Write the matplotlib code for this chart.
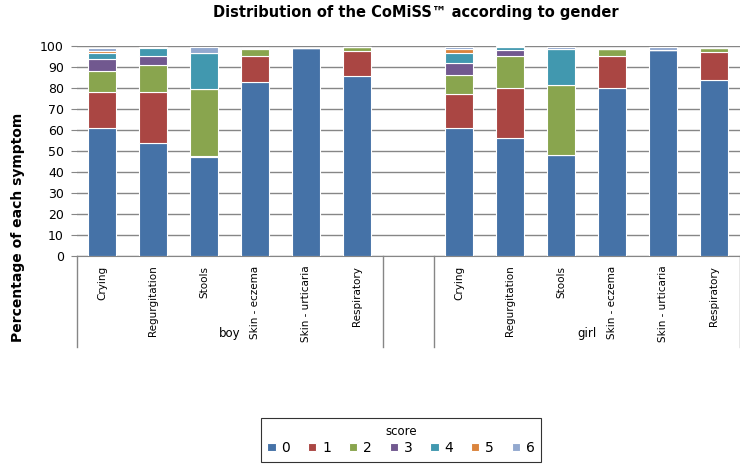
import numpy as np
import matplotlib
matplotlib.use("Agg")
import matplotlib.pyplot as plt

# symptoms per gender (a blank slot separates boy and girl)
symptoms = ["Crying", "Regurgitation", "Stools", "Skin - eczema", "Skin - urticaria", "Respiratory"]
genders = ["boy", "girl"]
score_labels = ["0", "1", "2", "3", "4", "5", "6"]

# percentage per score, boy symptoms followed by girl symptoms
score0 = [61, 54, 47, 83, 99, 85.5, 61, 56, 48, 80, 98, 84]
score1 = [17, 24, 0.5, 12, 0, 12, 16, 24, 0, 15, 0, 13]
score2 = [10, 13, 32, 3.5, 0, 2, 9, 15, 33.5, 3.5, 0, 2]
score3 = [6, 4, 0, 0, 0, 0, 6, 3, 0, 0, 0, 0]
score4 = [2.5, 4, 17, 0.7, 0, 0, 4.5, 1.5, 17, 0, 0, 0]
score5 = [1, 0.5, 0, 0, 0, 0, 2, 0, 0, 0, 0, 0]
score6 = [1.5, 0, 3, 0, 0, 0, 1, 0.5, 1, 0, 1.5, 0]
scores = [score0, score1, score2, score3, score4, score5, score6]

colors = ["#4572A7", "#AA4643", "#89A54E", "#71588F", "#4198AF", "#DB843D", "#93A9CF"]

n = len(symptoms)
x = np.concatenate([np.arange(n), np.arange(n) + n + 1])

fig = plt.figure(figsize=(7.4, 4.65), dpi=100)
ax = fig.add_axes([76.5 / 740, 1 - 256 / 465, 663 / 740, 210 / 465])

bottom = np.zeros(len(x))
for lab, vals, c in zip(score_labels, scores, colors):
    vals = np.array(vals, dtype=float)
    ax.bar(x, vals, bottom=bottom, width=0.55, color=c, edgecolor="white",
           linewidth=0.8, label=lab, zorder=3)
    bottom += vals

ax.set_xlim(-0.5, 2 * n + 0.5)
ax.set_ylim(0, 100)
ax.set_yticks(np.arange(0, 101, 10))
ax.yaxis.grid(True, color="#868686", linewidth=1.0, zorder=0)
ax.tick_params(axis="y", labelsize=9, length=4, color="#868686", pad=5)
for s in ["top", "right", "left"]:
    ax.spines[s].set_visible(False)
ax.spines["bottom"].set_color("#868686")

ax.set_xticks(x)
ax.set_xticklabels(symptoms * 2, rotation=90, fontsize=7.5, va="top")
ax.tick_params(axis="x", length=0, pad=7)

# grouping box below the categories
tr = ax.get_xaxis_transform()
for xv in [-0.5, n - 0.5, n + 0.5, 2 * n + 0.5]:
    ax.plot([xv, xv], [0, -0.435], transform=tr, color="#868686",
            linewidth=1.0, clip_on=False)
for i, g in enumerate(genders):
    ax.text(i * (n + 1) + (n - 1) / 2, -0.367, g, transform=tr,
            ha="center", va="center", fontsize=8.5)

fig.text(416 / 740, 1 - 13 / 465, "Distribution of the CoMiSS\u2122 according to gender",
         ha="center", va="center", fontsize=10.5, fontweight="bold")
fig.text(18 / 740, 1 - 227 / 465, "Percentage of each symptom", rotation=90,
         ha="center", va="center", fontsize=10, fontweight="bold")

leg = fig.legend(loc="center", bbox_to_anchor=(401 / 740, 1 - 440 / 465), ncol=7,
                 title="score", fontsize=10, title_fontsize=8.5,
                 handlelength=0.6, handleheight=0.6, handletextpad=0.4,
                 columnspacing=1.3, frameon=True, fancybox=False,
                 borderpad=0.5, borderaxespad=0)
leg.get_frame().set_edgecolor("black")
leg.get_frame().set_linewidth(0.8)
leg._legend_box.sep = 2

fig.savefig("out.png", dpi=100)
